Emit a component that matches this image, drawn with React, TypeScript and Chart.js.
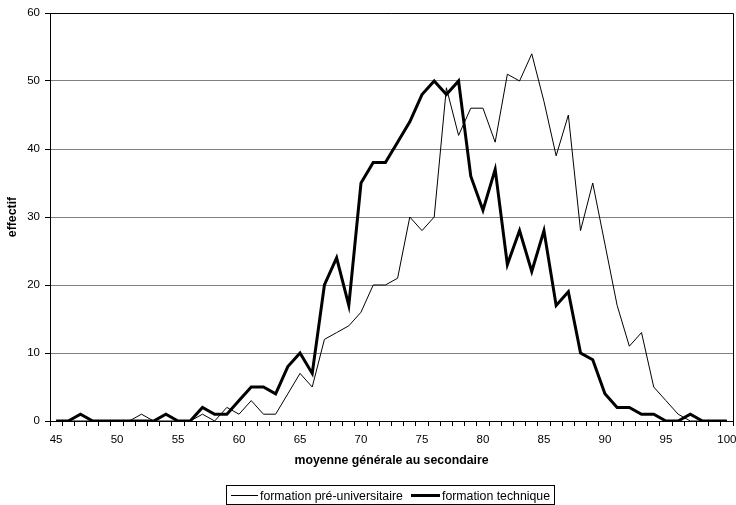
import React, { useEffect, useRef } from 'react';
import { Chart, registerables } from 'chart.js';

Chart.register(...registerables);

const FONT = '"Liberation Sans", Arial, Helvetica, sans-serif';

const categories = [
  '45', '46', '47', '48', '49', '50', '51', '52', '53', '54',
  '55', '56', '57', '58', '59', '60', '61', '62', '63', '64',
  '65', '66', '67', '68', '69', '70', '71', '72', '73', '74',
  '75', '76', '77', '78', '79', '80', '81', '82', '83', '84',
  '85', '86', '87', '88', '89', '90', '91', '92', '93', '94',
  '95', '96', '97', '98', '99', '100',
];

const tickLabels = ['45', '50', '55', '60', '65', '70', '75', '80', '85', '90', '95', '100'];

const preUniversitaire = [
  0, 0, 0, 0, 0, 0, 0, 1, 0, 0,
  0, 0, 1, 0, 2, 1, 3, 1, 1, 4,
  7, 5, 12, 13, 14, 16, 20, 20, 21, 30,
  28, 30, 49, 42, 46, 46, 41, 51, 50, 54,
  47, 39, 45, 28, 35, 26, 17, 11, 13, 5,
  3, 1, 0, 0, 0, 0,
];

const technique = [
  0, 0, 1, 0, 0, 0, 0, 0, 0, 1,
  0, 0, 2, 1, 1, 3, 5, 5, 4, 8,
  10, 7, 20, 24, 17, 35, 38, 38, 41, 44,
  48, 50, 48, 50, 36, 31, 37, 23, 28, 22,
  28, 17, 19, 10, 9, 4, 2, 2, 1, 1,
  0, 0, 1, 0, 0, 0,
];

const seriesNames = ['formation pré-universitaire', 'formation technique'];
const xTitle = 'moyenne générale au secondaire';
const yTitle = 'effectif';

const plotBorder = {
  id: 'plotBorder',
  afterDraw(chart: any) {
    const { ctx, chartArea: a } = chart;
    ctx.save();
    ctx.strokeStyle = '#000';
    ctx.lineWidth = 1;
    const top = Math.round(a.top - 0.5) + 0.5;
    const right = Math.round(a.right - 0.5) + 0.5;
    ctx.beginPath();
    ctx.moveTo(a.left, top);
    ctx.lineTo(right, top);
    ctx.lineTo(right, a.bottom);
    ctx.stroke();
    ctx.restore();
  },
};

export default function App() {
  const ref = useRef<HTMLCanvasElement>(null);

  useEffect(() => {
    if (!ref.current) return;
    const chart = new Chart(ref.current, {
      type: 'line',
      data: {
        labels: categories,
        datasets: [
          {
            label: seriesNames[0],
            data: preUniversitaire,
            borderColor: '#000',
            backgroundColor: '#000',
            borderWidth: 1,
            pointRadius: 0,
            tension: 0,
            fill: false,
            order: 2,
          },
          {
            label: seriesNames[1],
            data: technique,
            borderColor: '#000',
            backgroundColor: '#000',
            borderWidth: 3,
            pointRadius: 0,
            tension: 0,
            fill: false,
            order: 1,
          },
        ],
      },
      options: {
        responsive: false,
        animation: false,
        devicePixelRatio: 1,
        events: [],
        layout: { padding: { left: 0, top: 13, right: 3, bottom: 34 } },
        plugins: {
          legend: { display: false },
          tooltip: { enabled: false },
        },
        scales: {
          x: {
            type: 'category',
            offset: true,
            grid: {
              display: true,
              drawOnChartArea: false,
              drawTicks: true,
              tickLength: 5,
              color: '#000',
              offset: true,
            },
            border: { color: '#000', width: 1 },
            ticks: {
              autoSkip: false,
              maxRotation: 0,
              minRotation: 0,
              padding: 7,
              color: '#000',
              font: { family: FONT, size: 11.5 },
              callback: (_v: any, index: number) => {
                const l = categories[index];
                return tickLabels.includes(l) ? l : '';
              },
            },
            title: {
              display: true,
              text: xTitle,
              color: '#000',
              font: { family: FONT, size: 12.3, weight: 'bold' },
              padding: { top: 0, bottom: 3 },
            },
            afterFit: (s: any) => {
              s.height = 50;
              s.paddingLeft = 0;
              s.paddingRight = 0;
            },
          },
          y: {
            min: 0,
            max: 60,
            ticks: {
              stepSize: 10,
              padding: 5,
              color: '#000',
              font: { family: FONT, size: 11.5 },
            },
            grid: {
              color: '#808080',
              tickColor: '#000',
              tickLength: 5,
              drawTicks: true,
            },
            border: { color: '#000', width: 1 },
            title: {
              display: true,
              text: yTitle,
              color: '#000',
              font: { family: FONT, size: 12.3, weight: 'bold' },
              padding: { top: 5, bottom: 0 },
            },
            afterFit: (s: any) => {
              s.width = 50;
            },
          },
        },
      } as any,
      plugins: [plotBorder],
    });
    return () => chart.destroy();
  }, []);

  const textStyle: React.CSSProperties = {
    position: 'absolute',
    top: 489,
    fontFamily: FONT,
    fontSize: 12.3,
    lineHeight: '14px',
    color: '#000',
    whiteSpace: 'nowrap',
  };

  return (
    <div
      style={{
        position: 'absolute',
        left: 0,
        top: 0,
        width: 736,
        height: 505,
        overflow: 'hidden',
        background: '#fff',
      }}
    >
      <canvas ref={ref} width={736} height={505} style={{ display: 'block', width: 736, height: 505 }} />
      <div
        style={{
          position: 'absolute',
          left: 226,
          top: 485,
          width: 329,
          height: 20,
          border: '1px solid #000',
          boxSizing: 'border-box',
        }}
      />
      <div style={{ position: 'absolute', left: 231, top: 495, width: 27, height: 1, background: '#000' }} />
      <span style={{ ...textStyle, left: 260 }}>{seriesNames[0]}</span>
      <div style={{ position: 'absolute', left: 411, top: 494, width: 29, height: 3, background: '#000' }} />
      <span style={{ ...textStyle, left: 442 }}>{seriesNames[1]}</span>
    </div>
  );
}
